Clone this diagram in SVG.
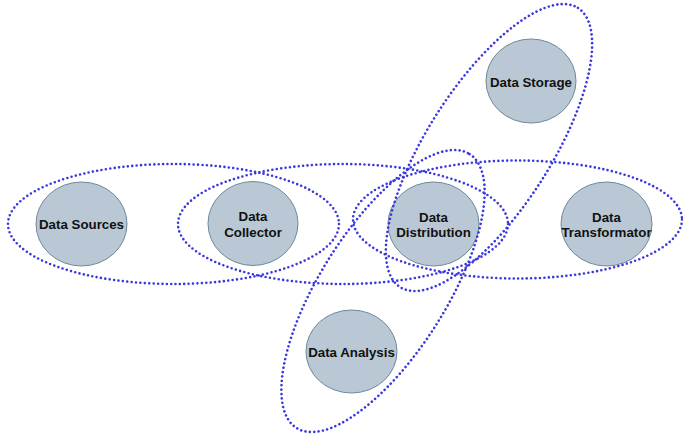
<svg xmlns="http://www.w3.org/2000/svg" width="683" height="438" viewBox="0 0 683 438">
  <style>
    .node { fill: #b9c8d4; stroke: #6f8898; stroke-width: 1; }
    .label { font-family: "Liberation Sans", Arial, sans-serif; font-weight: bold; font-size: 13.3px; fill: #111111; text-anchor: middle; }
    .link { fill: none; stroke: #3838de; stroke-width: 2.6; stroke-linecap: round; stroke-dasharray: 0 4.4; }
  </style>
  <rect width="683" height="438" fill="#ffffff"/>
  <g id="nodes">
    <g id="data-sources">
      <ellipse class="node" cx="81.5" cy="224" rx="45.5" ry="42"/>
      <text class="label" x="81.5" y="229">Data Sources</text>
    </g>
    <g id="data-collector">
      <ellipse class="node" cx="253" cy="223.5" rx="45" ry="42"/>
      <text class="label" x="253" y="221">Data</text>
      <text class="label" x="253" y="237">Collector</text>
    </g>
    <g id="data-distribution">
      <ellipse class="node" cx="433.5" cy="224" rx="45.5" ry="42"/>
      <text class="label" x="433.5" y="221.5">Data</text>
      <text class="label" x="433.5" y="237">Distribution</text>
    </g>
    <g id="data-transformator">
      <ellipse class="node" cx="606.5" cy="224" rx="45.5" ry="42"/>
      <text class="label" x="606.5" y="221.5">Data</text>
      <text class="label" x="606.5" y="237">Transformator</text>
    </g>
    <g id="data-storage">
      <ellipse class="node" cx="531" cy="81" rx="45" ry="42"/>
      <text class="label" x="531" y="86.5">Data Storage</text>
    </g>
    <g id="data-analysis">
      <ellipse class="node" cx="351.5" cy="351.5" rx="45.5" ry="41.5"/>
      <text class="label" x="351.5" y="357">Data Analysis</text>
    </g>
  </g>
  <g id="connectors">
    <ellipse id="link-sources-collector" class="link" cx="173.5" cy="224" rx="165.5" ry="60"/>
    <ellipse id="link-collector-distribution" class="link" cx="343" cy="224" rx="165" ry="60"/>
    <ellipse id="link-distribution-transformator" class="link" cx="517.5" cy="219.5" rx="164.5" ry="59"/>
    <ellipse id="link-distribution-storage" class="link" cx="489" cy="147.5" rx="165.5" ry="62" transform="rotate(-57.5 489 147.5)"/>
    <ellipse id="link-distribution-analysis" class="link" cx="383" cy="291" rx="162" ry="63" transform="rotate(-57.7 383 291)"/>
  </g>
</svg>
